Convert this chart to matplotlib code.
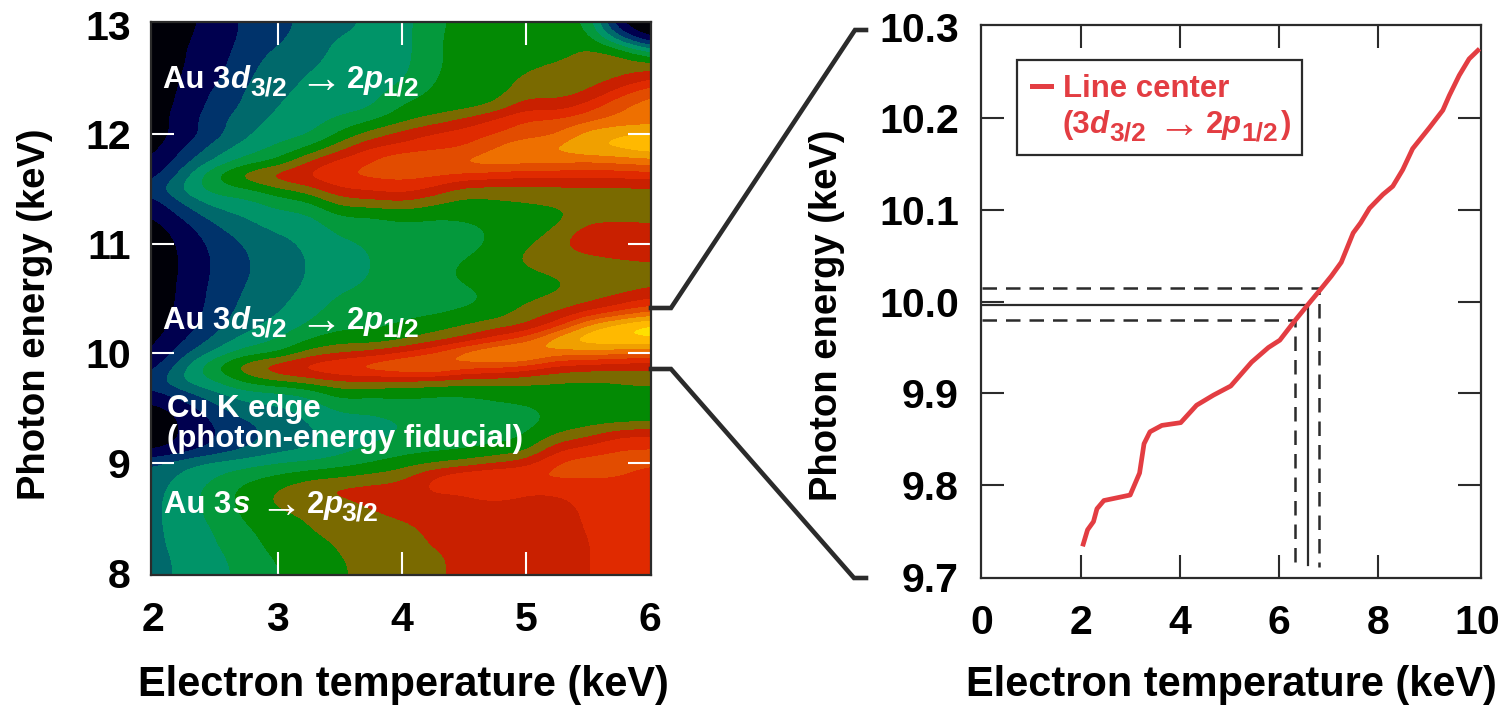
import numpy as np
import matplotlib
matplotlib.use('Agg')
import matplotlib.pyplot as plt
from matplotlib.colors import ListedColormap, BoundaryNorm
from matplotlib.lines import Line2D
from matplotlib.patches import Rectangle

plt.rcParams['font.family'] = ['Liberation Sans', 'DejaVu Sans']
plt.rcParams['font.weight'] = 'bold'

W, H = 1505, 707
INK = '#2b2b2b'
RED = '#e33d42'

# left panel: contour band, one list per temperature (2 to 6 keV
# in 0.25 keV steps), photon energy going from 13 down to 8 keV in 0.125 keV steps
band_t200 = [0.2, 0.3, 0.3, 0.4, 0.4, 0.4, 0.5, 0.5,
             0.5, 0.6, 1.0, 1.5, 2.4, 1.4, 0.9, 0.5,
             0.4, 0.4, 0.4, 0.4, 0.4, 0.5, 0.5, 0.7,
             0.9, 1.5, 2.4, 1.6, 0.6, 0.4, 0.4, 0.7,
             2.8, 3.4, 3.6, 3.7, 3.7, 3.7, 3.7, 3.7, 3.7]
band_t225 = [0.8, 0.9, 1.0, 1.0, 1.1, 1.2, 1.3, 1.5,
             1.4, 2.0, 2.7, 3.6, 4.5, 3.2, 2.2, 1.5,
             1.2, 1.1, 1.1, 1.2, 1.2, 1.3, 1.5, 1.9,
             2.8, 4.0, 4.4, 2.5, 1.4, 1.1, 1.1, 1.4,
             3.8, 4.3, 4.6, 4.6, 4.6, 4.5, 4.4, 4.2, 4.2]
band_t250 = [1.3, 1.4, 1.5, 1.6, 1.8, 2.2, 2.4, 2.7,
             2.6, 3.5, 4.2, 6.3, 5.5, 4.5, 3.5, 2.8,
             2.4, 2.2, 2.2, 2.3, 2.4, 2.5, 2.7, 3.3,
             4.4, 6.2, 5.0, 3.8, 2.7, 2.1, 2.0, 2.3,
             4.3, 5.0, 5.4, 5.4, 5.2, 5.0, 4.9, 4.7, 4.6]
band_t275 = [2.3, 2.3, 2.5, 2.7, 2.9, 3.1, 3.2, 3.6,
             3.9, 4.5, 5.5, 7.8, 5.8, 4.6, 4.1, 3.5,
             3.1, 3.0, 3.0, 3.1, 3.2, 3.4, 3.7, 4.5,
             5.6, 8.0, 6.4, 4.5, 3.8, 2.9, 2.6, 3.0,
             4.6, 5.7, 6.4, 6.4, 6.2, 5.9, 5.7, 5.5, 5.4]
band_t300 = [2.6, 2.8, 3.2, 3.5, 3.7, 3.9, 4.1, 4.3,
             4.6, 5.2, 6.0, 8.9, 6.8, 5.4, 4.7, 4.2,
             3.7, 3.4, 3.3, 3.4, 3.7, 3.9, 4.4, 5.0,
             5.8, 9.2, 7.0, 4.6, 3.8, 3.5, 3.4, 3.7,
             5.0, 6.2, 7.1, 7.2, 6.7, 6.4, 6.3, 6.1, 6.0]
band_t325 = [3.4, 3.5, 3.6, 3.9, 4.1, 4.2, 4.3, 4.5,
             4.8, 6.0, 8.2, 9.3, 7.6, 5.7, 4.7, 4.3,
             4.2, 4.1, 4.1, 4.2, 4.4, 4.7, 5.2, 6.0,
             7.5, 9.8, 7.5, 5.0, 4.3, 4.0, 3.8, 3.9,
             5.2, 6.7, 7.9, 7.4, 7.1, 7.0, 6.7, 6.5, 6.3]
band_t350 = [3.6, 4.1, 4.3, 4.3, 4.4, 4.4, 4.5, 5.3,
             6.2, 7.6, 9.5, 10.1, 9.0, 7.5, 6.0, 5.3,
             4.8, 4.6, 4.6, 4.8, 5.2, 5.5, 5.8, 6.6,
             8.0, 10.4, 8.0, 6.5, 5.3, 4.6, 4.4, 4.6,
             5.6, 6.9, 8.4, 7.6, 7.4, 7.2, 7.1, 7.0, 6.95]
band_t375 = [4.3, 4.4, 4.4, 4.4, 4.4, 4.5, 4.8, 5.9,
             7.4, 9.2, 10.0, 10.3, 9.2, 7.5, 5.9, 5.4,
             5.1, 5.0, 5.0, 5.1, 5.3, 5.5, 5.8, 6.4,
             8.4, 11.0, 8.0, 6.1, 5.2, 4.7, 4.7, 5.2,
             6.0, 7.3, 8.5, 8.2, 7.7, 7.4, 7.3, 7.2, 7.2]
band_t400 = [4.4, 4.4, 4.4, 4.5, 4.8, 5.6, 6.2, 6.7,
             8.5, 9.3, 11.1, 10.3, 9.6, 7.9, 6.3, 5.7,
             5.5, 5.4, 5.4, 5.5, 5.7, 5.8, 6.1, 6.8,
             9.2, 11.5, 7.8, 6.3, 5.5, 5.0, 5.1, 5.6,
             6.5, 7.6, 8.6, 8.6, 8.1, 7.7, 7.5, 7.4, 7.4]
band_t425 = [5.9, 6.0, 6.0, 6.0, 6.1, 6.2, 6.3, 7.5,
             9.2, 9.7, 11.2, 10.2, 8.9, 7.2, 6.0, 5.7,
             5.5, 5.5, 5.7, 5.7, 5.6, 5.8, 6.5, 7.6,
             10.0, 12.0, 7.7, 6.0, 5.5, 5.2, 5.3, 5.8,
             6.9, 9.3, 9.2, 8.6, 8.3, 8.2, 8.1, 7.6, 7.6]
band_t450 = [6.2, 6.2, 6.2, 6.2, 6.2, 6.3, 6.6, 8.3,
             9.5, 9.9, 11.4, 9.8, 7.6, 6.6, 6.1, 5.8,
             5.7, 6.0, 6.2, 6.0, 5.8, 6.1, 7.0, 8.2,
             11.8, 10.5, 7.4, 6.0, 5.5, 5.4, 5.5, 5.9,
             7.3, 10.1, 9.1, 8.6, 8.5, 8.5, 8.5, 8.5, 8.5]
band_t475 = [6.2, 6.3, 6.3, 6.3, 6.4, 6.5, 7.1, 9.3,
             10.0, 11.0, 11.8, 9.5, 7.7, 6.8, 6.2, 6.1,
             6.1, 6.3, 6.4, 6.2, 6.1, 6.3, 7.7, 9.4,
             12.7, 10.3, 7.4, 6.2, 5.8, 5.5, 5.7, 6.2,
             8.0, 10.3, 10.1, 8.7, 8.5, 8.5, 8.5, 8.5, 8.5]
band_t500 = [6.3, 6.4, 6.5, 6.8, 7.3, 7.7, 8.8, 10.2,
             10.4, 12.2, 11.4, 9.2, 7.7, 7.0, 6.4, 6.3,
             6.8, 7.3, 6.9, 6.5, 6.8, 7.5, 7.9, 10.5,
             13.1, 9.6, 7.3, 6.3, 5.9, 5.6, 5.9, 6.5,
             8.5, 10.3, 9.1, 8.6, 8.5, 8.5, 8.5, 8.5, 8.5]
band_t525 = [6.3, 6.4, 6.5, 7.2, 7.4, 7.6, 8.3, 10.2,
             10.8, 12.2, 11.4, 9.3, 7.7, 7.2, 6.6, 7.1,
             7.8, 7.5, 7.2, 6.8, 7.2, 7.9, 9.4, 13.2,
             11.4, 8.6, 7.1, 6.4, 6.2, 6.3, 7.2, 8.9,
             10.3, 10.2, 9.2, 8.6, 8.5, 8.5, 8.5, 8.5, 8.5]
band_t550 = [6.4, 6.8, 7.3, 7.5, 7.6, 7.9, 9.5, 10.8,
             12.6, 13.1, 11.0, 9.2, 7.7, 7.4, 7.5, 8.6,
             8.7, 7.8, 7.4, 7.3, 7.6, 9.0, 12.5, 14.0,
             11.5, 8.4, 6.9, 6.4, 6.3, 6.6, 7.7, 9.5,
             10.5, 10.1, 9.5, 9.3, 9.2, 9.1, 9.0, 9.0, 9.0]
band_t575 = [0.6, 3.5, 7.1, 7.6, 7.9, 9.6, 11.0, 11.3,
             13.0, 13.3, 11.3, 9.3, 7.7, 7.4, 7.6, 8.6,
             8.8, 8.1, 7.4, 7.4, 8.2, 10.0, 13.8, 14.0,
             11.2, 8.0, 7.2, 6.4, 6.2, 6.7, 9.0, 10.1,
             10.4, 10.1, 9.4, 9.4, 9.4, 9.3, 9.3, 9.3, 9.3]
band_t600 = [0.0, 0.5, 5.0, 7.5, 9.0, 11.0, 11.5, 11.3,
             13.5, 13.9, 11.5, 9.5, 7.8, 7.5, 7.5, 8.5,
             9.0, 8.3, 7.5, 7.8, 9.0, 11.0, 14.8, 14.0,
             11.0, 8.0, 7.4, 6.5, 6.3, 6.9, 9.0, 10.2,
             10.2, 9.5, 9.5, 9.5, 9.5, 9.5, 9.5, 9.5, 9.5]
band_colors = ['#000008', '#00004f', '#00336b', '#00696b', '#009468', '#04993c',
               '#038a04', '#7a6a00', '#c92000', '#e02a00', '#e24c00', '#ee7000',
               '#f0a000', '#ffb900', '#ffe000']

# right panel: line centre
line_te = [2.03, 2.13, 2.25, 2.32, 2.46, 2.99, 3.18, 3.27, 3.39, 3.63, 4.01, 4.33, 4.67,
           5.02, 5.44, 5.78, 6.01, 6.31, 6.58, 6.81, 7.05, 7.25, 7.49, 7.64, 7.82, 8.09, 8.29,
           8.49, 8.69, 9.03, 9.30, 9.43, 9.63, 9.83, 10.04]
line_e = [9.733, 9.751, 9.76, 9.774, 9.783, 9.789, 9.813, 9.845, 9.858, 9.865, 9.868, 9.887,
          9.898, 9.908, 9.934, 9.95, 9.958, 9.979, 9.997, 10.012, 10.028, 10.043, 10.075,
          10.086, 10.102, 10.117, 10.126, 10.144, 10.167, 10.19, 10.209, 10.225, 10.247,
          10.265, 10.276]
center_te, low_te, high_te = 6.58, 6.31, 6.81
center_e, low_e, high_e = 9.996, 9.98, 10.015


def px_axes(x0, x1, y0, y1):
    return fig.add_axes([x0 / W, 1 - y1 / H, (x1 - x0) / W, (y1 - y0) / H])


def fig_xy(xs, ys):
    return [x / W for x in xs], [1 - y / H for y in ys]


def label(base, pieces, color):
    # pieces are (x pixel, text, style), styles: b bold, i bold italic, s subscript, a arrow
    for x, s, style in pieces:
        kw = dict(color=color, fontsize=22.4, ha='left', va='baseline')
        y = base
        if style == 'i':
            kw['style'] = 'italic'
        elif style == 's':
            kw['fontsize'] = 19
            y = base + 7.5
        elif style == 'a':
            kw['fontsize'] = 31
            kw['fontweight'] = 'normal'
            y = base + 4
            x = x - 3
        fig.text(x / W, 1 - y / H, s, **kw)


def style_axes(a, color):
    a.tick_params(direction='in', length=16.5, width=1.5, color=color, top=True, right=True,
                  labelsize=29.5)
    a.tick_params(axis='x', pad=19)
    xt = a.xaxis.get_major_ticks()
    yt = a.yaxis.get_major_ticks()
    for t in [xt[0], xt[-1], yt[0], yt[-1]]:
        t.tick1line.set_visible(False)
        t.tick2line.set_visible(False)
    for s in a.spines.values():
        s.set_linewidth(1.6)
        s.set_color(INK)


fig = plt.figure(figsize=(W / 100, H / 100), dpi=100)

ax = px_axes(151, 651, 22, 575)
field = np.array([band_t200, band_t225, band_t250, band_t275, band_t300, band_t325, band_t350,
                  band_t375, band_t400, band_t425, band_t450, band_t475, band_t500, band_t525,
                  band_t550, band_t575, band_t600]).T
levels = np.arange(16)
ax.imshow(field, extent=(1.875, 6.125, 7.9375, 13.0625), origin='upper', aspect='auto',
          cmap=ListedColormap(band_colors), norm=BoundaryNorm(levels, 15),
          interpolation='bicubic', interpolation_stage='data')
ax.set_xlim(1.98, 6.01)
ax.set_ylim(7.979, 13.024)
ax.set_xticks([2, 3, 4, 5, 6])
ax.set_yticks([8, 9, 10, 11, 12, 13])
style_axes(ax, 'white')
ax.tick_params(axis='y', pad=14.5)
ax.yaxis.get_major_ticks()[4].tick2line.set_color(INK)

label(88, [(163.3, 'Au 3', 'b'), (230, 'd', 'i'), (250, '3/2', 's'), (302, '\u2192', 'a'),
           (347, '2', 'b'), (364, 'p', 'i'), (382, '1/2', 's')], 'white')
label(329, [(163.3, 'Au 3', 'b'), (230, 'd', 'i'), (250, '5/2', 's'), (302, '\u2192', 'a'),
            (347, '2', 'b'), (364, 'p', 'i'), (382, '1/2', 's')], 'white')
label(417, [(167.3, 'Cu K edge', 'b')], 'white')
label(447, [(167.3, '(photon-energy fiducial)', 'b')], 'white')
label(513, [(164, 'Au 3', 'b'), (233, 's', 'i'), (262, '\u2192', 'a'),
            (307, '2', 'b'), (324, 'p', 'i'), (341, '3/2', 's')], 'white')

ax2 = px_axes(981, 1481, 25, 577.5)
ax2.plot(line_te, line_e, color=RED, lw=3.4, solid_capstyle='butt', solid_joinstyle='round', zorder=4)
ax2.plot([0, center_te, center_te], [center_e, center_e, 9.713], color=INK, lw=1.6, zorder=3)
for te, e in [(low_te, low_e), (high_te, high_e)]:
    ax2.plot([0, te, te], [e, e, 9.71], color=INK, lw=1.8, dashes=(5.8, 3.6), zorder=3)
ax2.set_xlim(-0.02, 10.07)
ax2.set_ylim(9.699, 10.302)
ax2.set_xticks([0, 2, 4, 6, 8, 10])
ax2.set_yticks([9.7, 9.8, 9.9, 10.0, 10.1, 10.2, 10.3])
ax2.set_yticklabels(['9.7', '9.8', '9.9', '10.0', '10.1', '10.2', '10.3'])
style_axes(ax2, INK)
ax2.tick_params(axis='y', pad=16)

# legend box
fig.add_artist(Rectangle((1017 / W, 1 - 154.5 / H), 285 / W, 94 / H, transform=fig.transFigure,
                         fill=False, edgecolor=INK, lw=1.6))
xs, ys = fig_xy([1032, 1051], [85.5, 85.5])
fig.add_artist(Line2D(xs, ys, color=RED, lw=3.6))
label(97, [(1063, 'Line center', 'b')], RED)
label(133, [(1062.7, '(3', 'b'), (1089, 'd', 'i'), (1109, '3/2', 's'), (1160.7, '\u2192', 'a'),
            (1206, '2', 'b'), (1222, 'p', 'i'), (1241, '1/2', 's'), (1280.7, ')', 'b')], RED)

# zoom connectors
xs, ys = fig_xy([651, 671, 855, 866], [308, 308, 30, 30])
fig.add_artist(Line2D(xs, ys, color=INK, lw=3.3, solid_joinstyle='miter'))
xs, ys = fig_xy([651, 671, 854, 866], [369, 369, 578, 578])
fig.add_artist(Line2D(xs, ys, color=INK, lw=3.3, solid_joinstyle='miter'))

# axis titles
fig.text(403 / W, 1 - 685 / H, 'Electron temperature (keV)', fontsize=29.9, ha='center', va='center')
fig.text(1231 / W, 1 - 685 / H, 'Electron temperature (keV)', fontsize=29.9, ha='center', va='center')
fig.text(35 / W, 1 - 314 / H, 'Photon energy (keV)', fontsize=27.5, rotation=90, ha='center', va='center')
fig.text(827 / W, 1 - 315 / H, 'Photon energy (keV)', fontsize=27.5, rotation=90, ha='center', va='center')

fig.savefig('out.png', dpi=100)
